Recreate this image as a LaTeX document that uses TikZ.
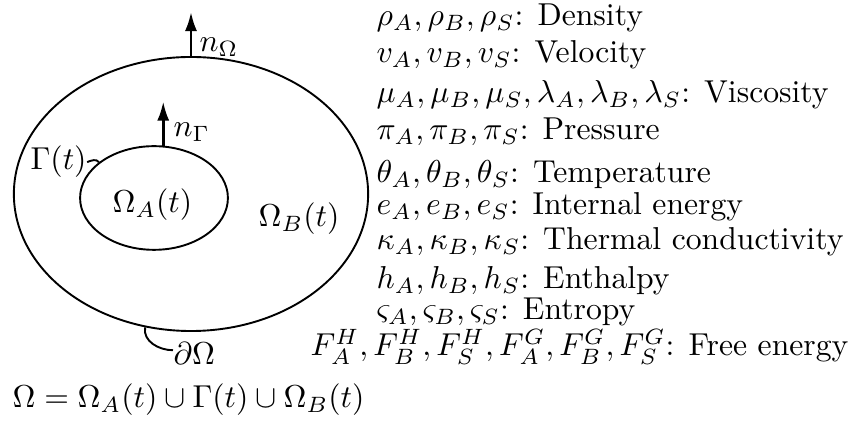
\documentclass[tikz,border=0pt]{standalone}
\usepackage{amsmath,amssymb}
\usetikzlibrary{shapes.geometric, arrows.meta, positioning, calc}

\begin{document}
\begin{tikzpicture}[
    x=0.0111cm, y=-0.0111cm,
    region/.style={ellipse, draw=black, semithick, inner sep=0pt},
    lbl/.style={inner sep=0pt, anchor=base west},
    prop/.style={inner sep=0pt, anchor=base west},
    arrow/.style={thick,-{Latex[length=6pt,width=3.8pt]}},
    tag/.style={semithick}
]
\useasboundingbox (0,0) rectangle (851,423);
% Domains
\node [region, minimum width=3.93cm, minimum height=3.04cm] (outer) at (191,194) {};
\node [region, minimum width=1.64cm, minimum height=1.15cm] (inner) at (154,198) {};

% Labels
\node [lbl] (omA) at (112,213) {$\Omega_A(t)$};
\node [lbl] (omB) at (258,227) {$\Omega_B(t)$};
\node [lbl] (gam) at (30,170) {$\Gamma(t)$};
\node [lbl] (dom) at (173,365) {$\partial\Omega$};
\node [lbl] (nom) at (199,52) {$n_\Omega$};
\node [lbl] (ngam) at (173,137) {$n_\Gamma$};
\node [lbl] (union) at (12,408) {$\Omega=\Omega_A(t)\cup\Gamma(t)\cup\Omega_B(t)$};

% Properties
\node [prop] (rho) at (376,26) {$\rho_A,\rho_B,\rho_S$: Density};
\node [prop] (vel) at (376,63) {$v_A,v_B,v_S$: Velocity};
\node [prop] (visc) at (376,103) {$\mu_A,\mu_B,\mu_S,\lambda_A,\lambda_B,\lambda_S$: Viscosity};
\node [prop] (pres) at (376,140) {$\pi_A,\pi_B,\pi_S$: Pressure};
\node [prop] (temp) at (376,183) {$\theta_A,\theta_B,\theta_S$: Temperature};
\node [prop] (ener) at (376,215) {$e_A,e_B,e_S$: Internal energy};
\node [prop] (cond) at (376,250) {$\kappa_A,\kappa_B,\kappa_S$: Thermal conductivity};
\node [prop] (enth) at (376,289) {$h_A,h_B,h_S$: Enthalpy};
\node [prop] (entr) at (376,320) {$\varsigma_A,\varsigma_B,\varsigma_S$: Entropy};
\node [prop] (free) at (310,356) {$F_A^H,F_B^H,F_S^H,F_A^G,F_B^G,F_S^G$: Free energy};

% Normals
\coordinate (tipO) at ($(outer.north)+(0,-44)$);
\coordinate (tipG) at ($(inner.80)+(0,-44)$);
\draw [arrow] (outer.north) -- (tipO);
\draw [arrow] (inner.80) -- (tipG);

% Boundary tags
\draw [tag] (gam.east) to[out=20,in=125] (inner.147);
\draw [tag] (outer.251) to[out=-100,in=180] (dom.170);
\end{tikzpicture}
\end{document}
